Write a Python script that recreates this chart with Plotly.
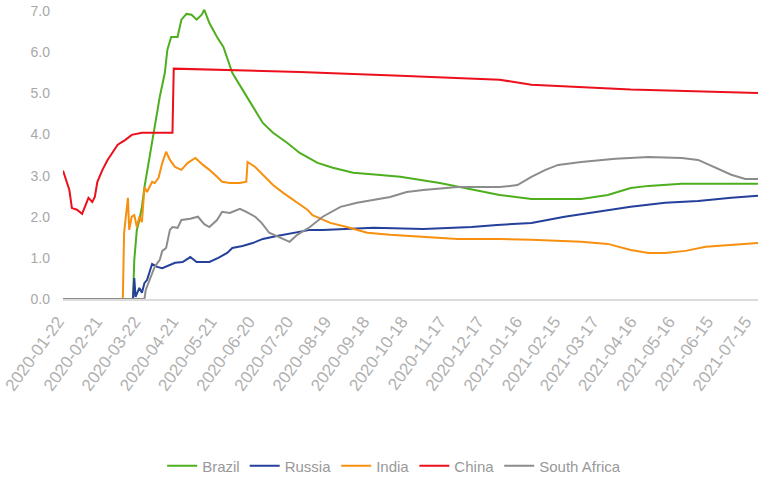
import plotly.graph_objects as go

# ---- data (date, value) ----
brazil_dates = ["2020-01-22", "2020-03-17", "2020-03-18", "2020-03-20", "2020-03-22", "2020-03-24",
                "2020-03-26", "2020-03-28", "2020-03-30", "2020-04-03", "2020-04-07", "2020-04-11",
                "2020-04-13", "2020-04-16", "2020-04-21", "2020-04-24", "2020-04-28", "2020-05-02",
                "2020-05-06", "2020-05-10", "2020-05-12", "2020-05-16", "2020-05-22", "2020-05-27",
                "2020-05-31", "2020-06-03", "2020-06-11", "2020-06-19", "2020-06-27", "2020-07-05",
                "2020-07-16", "2020-07-26", "2020-08-09", "2020-08-21", "2020-09-06", "2020-09-25",
                "2020-10-13", "2020-11-13", "2020-12-09", "2020-12-30", "2021-01-24", "2021-03-04",
                "2021-03-25", "2021-04-12", "2021-04-26", "2021-05-22", "2021-07-21"]
brazil_vals = [0, 0, 0.95, 1.68, 1.92, 2.24,
               2.72, 3.1, 3.46, 4.18, 4.91, 5.5,
               6.06, 6.37, 6.37, 6.79, 6.93, 6.91,
               6.79, 6.91, 7.03, 6.71, 6.37, 6.13,
               5.74, 5.5, 5.09, 4.67, 4.28, 4.04,
               3.8, 3.55, 3.31, 3.19, 3.07, 3.02,
               2.97, 2.82, 2.65, 2.53, 2.43, 2.43,
               2.53, 2.70, 2.75, 2.80, 2.80]

russia_dates = ["2020-01-22", "2020-03-17", "2020-03-18", "2020-03-19", "2020-03-22", "2020-03-24",
                "2020-03-26", "2020-03-28", "2020-04-01", "2020-04-05", "2020-04-09", "2020-04-13",
                "2020-04-19", "2020-04-25", "2020-05-01", "2020-05-06", "2020-05-16", "2020-05-23",
                "2020-05-30", "2020-06-03", "2020-06-11", "2020-06-19", "2020-06-27", "2020-07-08",
                "2020-07-21", "2020-08-03", "2020-08-13", "2020-09-22", "2020-10-31", "2020-12-08",
                "2020-12-28", "2021-01-24", "2021-02-19", "2021-03-17", "2021-04-12", "2021-05-09",
                "2021-06-04", "2021-06-30", "2021-07-21"]
russia_vals = [0, 0, 0.51, 0.05, 0.27, 0.15,
               0.39, 0.46, 0.85, 0.78, 0.75, 0.80,
               0.88, 0.90, 1.02, 0.90, 0.90, 1.0,
               1.12, 1.24, 1.29, 1.36, 1.46, 1.53,
               1.61, 1.68, 1.68, 1.73, 1.70, 1.75,
               1.80, 1.85, 2.0, 2.12, 2.24, 2.34,
               2.38, 2.46, 2.51]

india_dates = ["2020-01-22", "2020-03-09", "2020-03-10", "2020-03-13", "2020-03-14", "2020-03-16",
               "2020-03-18", "2020-03-20", "2020-03-22", "2020-03-24", "2020-03-26", "2020-03-28",
               "2020-04-01", "2020-04-03", "2020-04-06", "2020-04-09", "2020-04-12", "2020-04-15",
               "2020-04-19", "2020-04-24", "2020-04-29", "2020-05-05", "2020-05-11", "2020-05-16",
               "2020-05-22", "2020-05-26", "2020-06-01", "2020-06-09", "2020-06-14", "2020-06-15",
               "2020-06-21", "2020-06-27", "2020-07-05", "2020-07-13", "2020-07-21", "2020-08-01",
               "2020-08-05", "2020-08-19", "2020-09-01", "2020-09-17", "2020-10-05", "2020-10-31",
               "2020-11-27", "2020-12-30", "2021-01-24", "2021-03-04", "2021-03-25", "2021-04-12",
               "2021-04-26", "2021-05-09", "2021-05-25", "2021-06-10", "2021-06-30", "2021-07-21"]
india_vals = [0, 0, 1.61, 2.46, 1.68, 2.0,
              2.04, 1.75, 2.0, 1.87, 2.72, 2.60,
              2.85, 2.82, 2.94, 3.31, 3.58, 3.38,
              3.21, 3.14, 3.31, 3.43, 3.26, 3.14,
              2.97, 2.85, 2.82, 2.82, 2.85, 3.33,
              3.21, 3.02, 2.77, 2.58, 2.41, 2.17,
              2.04, 1.85, 1.75, 1.61, 1.56, 1.51,
              1.46, 1.46, 1.44, 1.39, 1.34, 1.19,
              1.12, 1.12, 1.17, 1.27, 1.31, 1.36]

china_dates = ["2020-01-22", "2020-01-25", "2020-01-27", "2020-01-29", "2020-02-02", "2020-02-06",
               "2020-02-08", "2020-02-11", "2020-02-14", "2020-02-16", "2020-02-18", "2020-02-22",
               "2020-02-26", "2020-03-01", "2020-03-05", "2020-03-11", "2020-03-16", "2020-03-24",
               "2020-04-03", "2020-04-17", "2020-04-18", "2020-07-26", "2020-10-13", "2020-12-30",
               "2021-01-24", "2021-04-12", "2021-07-21"]
china_vals = [3.12, 2.85, 2.65, 2.21, 2.17, 2.07,
              2.21, 2.46, 2.36, 2.48, 2.85, 3.14,
              3.38, 3.58, 3.75, 3.87, 3.99, 4.04,
              4.04, 4.04, 5.6, 5.52, 5.43, 5.33,
              5.21, 5.09, 5.01]

safrica_dates = ["2020-01-22", "2020-03-26", "2020-03-27", "2020-03-30", "2020-04-03", "2020-04-07",
                 "2020-04-09", "2020-04-12", "2020-04-15", "2020-04-17", "2020-04-21", "2020-04-24",
                 "2020-05-01", "2020-05-07", "2020-05-12", "2020-05-16", "2020-05-22", "2020-05-26",
                 "2020-06-01", "2020-06-09", "2020-06-14", "2020-06-21", "2020-06-26", "2020-07-02",
                 "2020-07-10", "2020-07-18", "2020-07-24", "2020-08-03", "2020-08-13", "2020-08-27",
                 "2020-09-09", "2020-09-22", "2020-10-05", "2020-10-18", "2020-10-31", "2020-11-27",
                 "2020-12-30", "2021-01-13", "2021-01-24", "2021-02-04", "2021-02-14", "2021-03-04",
                 "2021-03-31", "2021-04-26", "2021-05-22", "2021-06-04", "2021-06-17", "2021-06-30",
                 "2021-07-11", "2021-07-21"]
safrica_vals = [0, 0, 0.22, 0.46, 0.78, 0.95,
                1.17, 1.24, 1.68, 1.75, 1.73, 1.92,
                1.95, 2.0, 1.82, 1.75, 1.92, 2.12,
                2.09, 2.19, 2.12, 2.0, 1.85, 1.61,
                1.51, 1.39, 1.56, 1.75, 2.0, 2.24,
                2.34, 2.41, 2.48, 2.60, 2.65, 2.72,
                2.72, 2.77, 2.97, 3.14, 3.26, 3.33,
                3.41, 3.45, 3.43, 3.38, 3.21, 3.02,
                2.92, 2.92]

y_ticks = [0, 1, 2, 3, 4, 5, 6, 7]

series = [
    ("Brazil", brazil_dates, brazil_vals, "#4EAF1E"),
    ("Russia", russia_dates, russia_vals, "#24409A"),
    ("India", india_dates, india_vals, "#F7900F"),
    ("China", china_dates, china_vals, "#EC0F1C"),
    ("South Africa", safrica_dates, safrica_vals, "#8C8C8C"),
]

FONT = "Liberation Sans, Arial, sans-serif"

fig = go.Figure()
for name, d, v, c in series:
    fig.add_trace(go.Scatter(x=d, y=v, name=name, mode="lines",
                             line=dict(color=c, width=2)))

fig.update_layout(
    width=758, height=485,
    margin=dict(l=63, r=0, t=9, b=186, autoexpand=False),
    paper_bgcolor="white", plot_bgcolor="white",
    font=dict(family=FONT, color="#A0A0A0"),
    showlegend=True,
    legend=dict(orientation="h", xref="container", yref="container",
                x=0.52, xanchor="center", y=0.039, yanchor="middle",
                font=dict(size=15, color="#999999"), itemwidth=30,
                bgcolor="rgba(0,0,0,0)"),
)
fig.update_xaxes(
    type="date", range=["2020-01-22", "2021-07-21"],
    tick0="2020-01-22", dtick=30 * 86400000, tickformat="%Y-%m-%d",
    tickangle=-54, tickfont=dict(family=FONT, size=17, color="#B0B0B0"),
    ticklabeloverflow="allow", ticklabelshift=-5, ticklabelstandoff=4,
    showgrid=False, zeroline=False, showline=True, linecolor="#DCDCDC", linewidth=2,
    ticks="", automargin=False,
)
fig.update_yaxes(
    range=[0, 7.05], tickvals=y_ticks, tickformat=".1f",
    tickfont=dict(family=FONT, size=14, color="#A8A8A8"),
    ticklabeloverflow="allow",
    showgrid=False, zeroline=False, showline=False, ticks="", ticklabelstandoff=12,
    automargin=False,
)

# remove the default 8px page margin so the figure sits at the window's corner
fig.write_html("out.html", config={"displayModeBar": False},
               post_script="document.body.style.margin='0';")
